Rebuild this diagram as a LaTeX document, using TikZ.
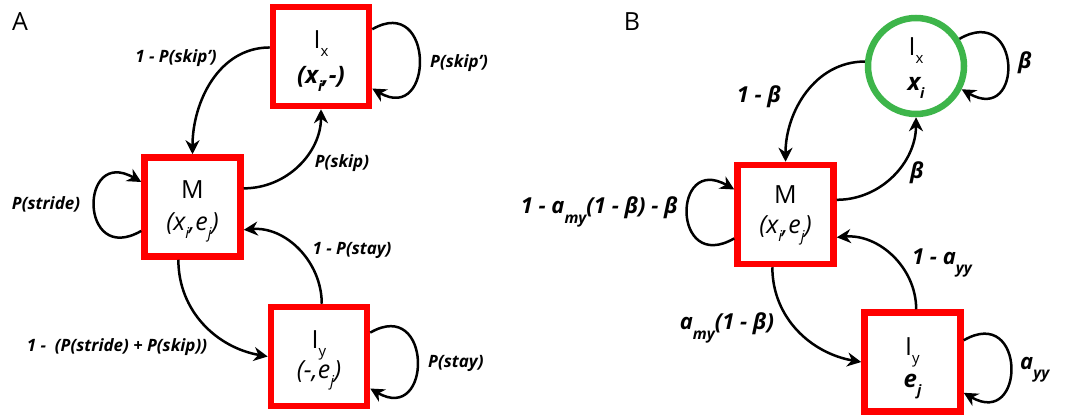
\documentclass[tikz,border=0pt]{standalone}
\usepackage{fontspec}
\setmainfont{Open Sans}
\usetikzlibrary{arrows.meta,calc}
\definecolor{boxred}{RGB}{255,0,0}
\definecolor{circgreen}{RGB}{61,181,74}
% lowered, reduced subscripts used in the state and edge labels
\newcommand\lowsub[1]{\raisebox{-0.35em}{\scalebox{0.6}{#1}}}
\newcommand\deepsub[1]{\raisebox{-0.42em}{\scalebox{0.7}{#1}}}
\begin{document}
\begin{tikzpicture}[x=1pt,y=1pt,
  redbox/.style={draw=boxred,line width=6.5pt,minimum width=96pt,minimum height=99pt,inner sep=0pt},
  greenring/.style={circle,draw=circgreen,line width=6.5pt,minimum size=96pt,inner sep=0pt},
  statefont/.style={font=\fontsize{25}{30}\selectfont,anchor=base,inner sep=0pt},
  statebold/.style={font=\bfseries\itshape\fontsize{24}{30}\selectfont,anchor=base,inner sep=0pt},
  stateit/.style={font=\itshape\fontsize{25}{30}\selectfont,anchor=base,inner sep=0pt},
  arr/.style={draw,line width=2.5pt,-{Stealth[length=14pt,width=14pt,inset=4.5pt]}},
  lblA/.style={font=\bfseries\itshape\fontsize{17}{20}\selectfont,inner sep=0pt},
  lblB/.style={font=\bfseries\itshape\fontsize{22}{26}\selectfont,inner sep=0pt},
  panel/.style={font=\fontsize{25}{30}\selectfont,inner sep=0pt}]
\useasboundingbox (0,0) rectangle (1069,-415);

% ---------------- panel A ----------------
\node[panel] (pa) at (20,-22) {A};
\node[redbox] (ax) at (321,-56.5) {};
\node[redbox] (am) at (192.5,-207) {};
\node[redbox] (ay) at (319,-356.5) {};

\node[statefont] (axt) at (321,-48) {I\lowsub{x}};
\node[statebold] (axs) at (321,-83) {(x\lowsub{i},-)};
\node[statefont] (amt) at (192.5,-198) {M};
\node[stateit] (ams) at (192.5,-230) {(x\lowsub{i},e\lowsub{j})};
\node[statefont] (ayt) at (319,-348) {I\lowsub{y}};
\node[stateit] (ays) at (319,-378) {(-,e\lowsub{j})};

\draw[arr] (ax.170) to[out=180,in=90] (am.north);
\draw[arr] (am.20) to[out=0,in=-90] (ax.south);
\draw[arr] (ax.28) to[out=30,in=-30,distance=72] (ax.-32);
\draw[arr] (am.205) to[out=210,in=150,distance=72] (am.154);
\draw[arr] (am.-105) to[out=-90,in=170] (ay.west);
\draw[arr] (ay.87) to[out=90,in=5] (am.-24);
\draw[arr] (ay.25) to[out=30,in=-30,distance=72] (ay.-32);

\node[lblA] (l1) at (176,-58) {1 - P(skip')};
\node[lblA] (l2) at (342,-163) {P(skip)};
\node[lblA,anchor=west] (l3) at (430,-63) {P(skip')};
\node[lblA] (l4) at (46,-204) {P(stride)};
\node[lblA] (l5) at (117,-347) {1 - \ (P(stride) + P(skip))};
\node[lblA] (l6) at (352,-250) {1 - P(stay)};
\node[lblA,anchor=west] (l7) at (428,-363) {P(stay)};

% ---------------- panel B ----------------
\node[panel] (pb) at (632,-22) {B};
\node[greenring] (bx) at (916,-66) {};
\node[redbox] (bm) at (785.5,-214.5) {};
\node[redbox] (by) at (912.5,-362) {};

\node[statefont] (bxt) at (916,-55) {I\lowsub{x}};
\node[statebold] (bxs) at (916,-90) {x\lowsub{i}};
\node[statefont] (bmt) at (785.5,-203) {M};
\node[stateit] (bms) at (785.5,-233) {(x\lowsub{i},e\lowsub{j})};
\node[statefont] (byt) at (912.5,-355) {I\lowsub{y}};
\node[statebold] (bys) at (912.5,-387) {e\lowsub{j}};

\draw[arr] (bx.175) to[out=180,in=90] (bm.north);
\draw[arr] (bm.16) to[out=0,in=-90] (bx.south);
\draw[arr] (bx.32) to[out=30,in=-30,distance=72] (bx.-27);
\draw[arr] (bm.205) to[out=210,in=150,distance=72] (bm.154);
\draw[arr] (bm.-104) to[out=-90,in=170] (by.west);
\draw[arr] (by.86) to[out=90,in=5] (bm.-24);
\draw[arr] (by.23) to[out=30,in=-30,distance=72] (by.-31);

\node[lblB] (m1) at (759,-97) {1 - β};
\node[lblB] (m2) at (917,-173) {β};
\node[lblB,anchor=west] (m3) at (1018,-63) {β};
\node[lblB,anchor=east] (m4) at (678,-212) {1 - a\deepsub{my}(1 - β) - β};
\node[lblB] (m5) at (727,-328) {a\deepsub{my}(1 - β)};
\node[lblB] (m6) at (942,-263) {1 - a\deepsub{yy}};
\node[lblB,anchor=west] (m7) at (1020,-370) {a\deepsub{yy}};
\end{tikzpicture}
\end{document}
